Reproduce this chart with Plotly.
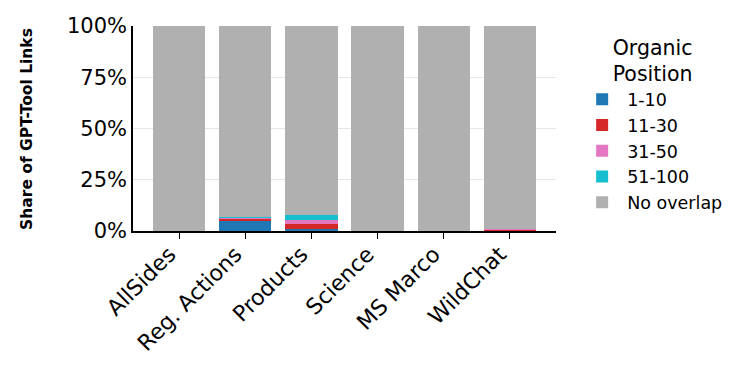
import plotly.graph_objects as go

datasets = ["AllSides", "Reg. Actions", "Products", "Science", "MS Marco", "WildChat"]
pos_1_10 = [0.1, 4.7, 0.8, 0.0, 0.0, 0.3]
pos_11_30 = [0.1, 1.3, 2.7, 0.0, 0.0, 0.3]
pos_31_50 = [0.0, 0.5, 2.1, 0.0, 0.0, 0.4]
pos_51_100 = [0.0, 0.3, 2.1, 0.0, 0.0, 0.1]
no_overlap = [100 - sum(v) for v in zip(pos_1_10, pos_11_30, pos_31_50, pos_51_100)]

series = [
    ("1-10", pos_1_10, "#1f77b4"),
    ("11-30", pos_11_30, "#d62728"),
    ("31-50", pos_31_50, "#e377c2"),
    ("51-100", pos_51_100, "#17becf"),
    ("No overlap", no_overlap, "#b0b0b0"),
]

fig = go.Figure()
for name, vals, color in series:
    fig.add_trace(go.Bar(
        x=datasets, y=vals, name=name,
        marker=dict(color=color, line=dict(width=0)),
    ))

fig.update_layout(
    barmode="stack",
    bargap=0.21,
    width=753, height=377,
    margin=dict(l=125, r=205, t=18, b=154),
    plot_bgcolor="white",
    paper_bgcolor="white",
    font=dict(family="DejaVu Sans", color="black"),
    legend=dict(
        title=dict(text="Organic<br>Position", font=dict(size=20.5), side="top center"),
        font=dict(size=17.5),
        x=1.05, xanchor="left", y=0.99, yanchor="top",
        traceorder="normal",
        itemwidth=40,
        tracegroupgap=0,
    ),
    annotations=[dict(
        text="<b>Share of GPT-Tool Links</b>", textangle=-90,
        xref="paper", yref="paper", x=-0.252, y=0.5,
        xanchor="center", yanchor="middle", showarrow=False,
        font=dict(size=15.5),
    )],
)
fig.update_xaxes(
    range=[-0.7, 5.7], automargin=False,
    showline=True, linecolor="black", linewidth=1.5,
    ticks="outside", ticklen=6, tickcolor="black",
    tickangle=-45, tickfont=dict(size=22),
    ticklabelshift=-10, ticklabelstandoff=-6,
)
fig.update_yaxes(
    range=[0, 100], automargin=False,
    tickvals=[0, 25, 50, 75, 100],
    ticktext=["0%", "25%", "50%", "75%", "100%"],
    showline=True, linecolor="black", linewidth=1.5,
    showgrid=True, gridcolor="#e6e6e6",
    tickfont=dict(size=21),
)

fig.write_html("out.html")
